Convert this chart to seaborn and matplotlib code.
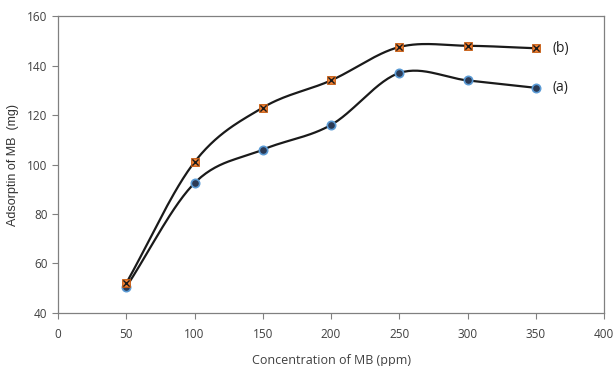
import numpy as np
import pandas as pd
import matplotlib
matplotlib.use("Agg")
import matplotlib.pyplot as plt
import seaborn as sns

conc = [50, 100, 150, 200, 250, 300, 350]
ads_a = [50.5, 92.5, 106, 116, 137, 134, 131]
ads_b = [52, 101, 123, 134, 147.5, 148, 147]
series_labels = ["(a)", "(b)"]
x_ticks = [0, 50, 100, 150, 200, 250, 300, 350, 400]
y_ticks = [40, 60, 80, 100, 120, 140, 160]

sns.set_theme(style="white")
plt.rcParams['font.family'] = ['Open Sans', 'DejaVu Sans']


def smooth(x, y, n=30, tension=0.5):
    # Catmull-Rom style curve similar to spreadsheet "smoothed line"
    x = np.asarray(x, float); y = np.asarray(y, float)
    px = np.concatenate([[2 * x[0] - x[1]], x, [2 * x[-1] - x[-2]]])
    py = np.concatenate([[2 * y[0] - y[1]], y, [2 * y[-1] - y[-2]]])
    xs, ys = [], []
    for i in range(1, len(px) - 2):
        t = np.linspace(0, 1, n, endpoint=(i == len(px) - 3))
        for arr, out in ((px, xs), (py, ys)):
            p0, p1, p2, p3 = arr[i - 1], arr[i], arr[i + 1], arr[i + 2]
            m1 = tension * (p2 - p0)
            m2 = tension * (p3 - p1)
            h00 = 2 * t**3 - 3 * t**2 + 1
            h10 = t**3 - 2 * t**2 + t
            h01 = -2 * t**3 + 3 * t**2
            h11 = t**3 - t**2
            out.extend(h00 * p1 + h10 * m1 + h01 * p2 + h11 * m2)
    return np.array(xs), np.array(ys)


fig = plt.figure(figsize=(6.15, 3.66), dpi=100)
ax = fig.add_axes([0.0943, 0.145, 0.888, 0.811])

for ys in (ads_a, ads_b):
    sx, sy = smooth(conc, ys)
    ax.plot(sx, sy, color="#1a1a1a", lw=1.6, zorder=2)

df = pd.DataFrame({"conc": conc + conc,
                   "ads": ads_a + ads_b,
                   "series": [series_labels[0]] * len(conc) + [series_labels[1]] * len(conc)})

da = df[df.series == "(a)"]
db = df[df.series == "(b)"]
sns.scatterplot(data=da, x="conc", y="ads", ax=ax, marker="o", s=36,
                color="#2b3a55", edgecolor="#5b9bd5", linewidth=1.2, zorder=3, legend=False)
sns.scatterplot(data=db, x="conc", y="ads", ax=ax, marker="s", s=32,
                color="#ed7d31", edgecolor="#c55a11", linewidth=0.6, zorder=3, legend=False)
sns.scatterplot(data=db, x="conc", y="ads", ax=ax, marker="x", s=20,
                color="#1a1a1a", linewidth=1.0, zorder=4, legend=False)

ax.text(362, ads_b[-1], series_labels[1], fontsize=10, va="center", ha="left", color="#222222")
ax.text(362, ads_a[-1], series_labels[0], fontsize=10, va="center", ha="left", color="#222222")

ax.set_xlim(0, 400)
ax.set_ylim(40, 160)
ax.set_xticks(x_ticks)
ax.set_yticks(y_ticks)
ax.tick_params(axis="both", which="both", direction="out", length=4, width=0.8,
               color="#808080", labelsize=8.5, labelcolor="#404040", bottom=True, left=True)
ax.tick_params(axis="x", pad=7)
for s in ax.spines.values():
    s.set_color("#808080")
    s.set_linewidth(0.9)

ax.set_xlabel("Concentration of MB (ppm)", fontsize=9, color="#404040", labelpad=9)
ax.set_ylabel("Adsorptin of MB  (mg)", fontsize=9, color="#333333",
              family=["Liberation Sans", "DejaVu Sans"], labelpad=6)

fig.savefig("out.png", dpi=100)
